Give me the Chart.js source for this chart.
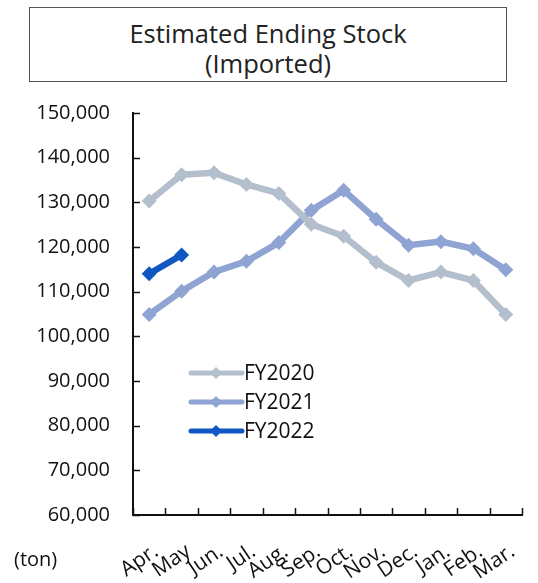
<!DOCTYPE html>
<html>
<head>
<meta charset="utf-8">
<script src="https://cdn.jsdelivr.net/npm/chart.js@4"></script>
<style>
  html, body { margin: 0; padding: 0; background: #fff; }
  #wrap { position: relative; width: 538px; height: 583px; overflow: hidden; }
  #title {
    position: absolute; left: 29px; top: 7px; width: 478px; height: 75px;
    border: 1.5px solid #555; box-sizing: border-box;
    font-family: "Open Sans", sans-serif; font-size: 25.5px; line-height: 30px;
    color: #222; text-align: center; padding-top: 10px;
  }
  #unit { position: absolute; left: 14px; top: 545px; font-family: "Open Sans", sans-serif; font-size: 20px; line-height: 28px; color: #111; }
  canvas { position: absolute; left: 0; top: 0; }
</style>
</head>
<body>
<div id="wrap">
  <div id="title">Estimated Ending Stock<br>(Imported)</div>
  <canvas id="c" width="538" height="583"></canvas>
  <div id="unit">(ton)</div>
</div>
<script>
// 월 (회계연도 4월 시작)
const months = ['Apr.', 'May', 'Jun.', 'Jul.', 'Aug.', 'Sep.', 'Oct.', 'Nov.', 'Dec.', 'Jan.', 'Feb.', 'Mar.'];

// 연도별 기말재고 (톤)
const fy2020 = [130300, 136200, 136600, 134000, 132000, 125100, 122400, 116600, 112500, 114400, 112500, 104900];
const fy2021 = [104900, 110100, 114400, 116800, 121000, 128200, 132700, 126200, 120400, 121200, 119600, 114900];
const fy2022 = [114000, 118200];

const seriesNames = ['FY2020', 'FY2021', 'FY2022'];
const seriesColors = ['#b4bfcd', '#8fa4d3', '#1157c4'];

const yTicks = [60000, 70000, 80000, 90000, 100000, 110000, 120000, 130000, 140000, 150000];

const font = "'Open Sans', sans-serif";

function mkSet(i, data) {
  return {
    label: seriesNames[i],
    data: data,
    borderColor: seriesColors[i],
    backgroundColor: seriesColors[i],
    borderWidth: 6.5,
    pointStyle: 'rectRot',
    pointRadius: 7.5,
    pointBorderWidth: 0,
    tension: 0
  };
}

// 눈금을 축 안쪽으로 그림
const innerTicks = {
  id: 'innerTicks',
  afterDraw(chart) {
    const c = chart.ctx, a = chart.chartArea;
    const xs = chart.scales.x, ys = chart.scales.y;
    c.save();
    c.strokeStyle = '#111';
    c.lineWidth = 1.5;
    c.beginPath();
    yTicks.forEach(v => {
      const y = Math.round(ys.getPixelForValue(v)) + 0.5;
      c.moveTo(a.left, y); c.lineTo(a.left + 7, y);
    });
    for (let i = 0; i <= months.length; i++) {
      const x = Math.round(xs.getPixelForValue(i - 0.5)) + 0.5;
      c.moveTo(x, a.bottom); c.lineTo(x, a.bottom - 7);
    }
    c.stroke();
    c.restore();
  }
};

// 차트 안쪽에 범례 그리기
const innerLegend = {
  id: 'innerLegend',
  afterDraw(chart) {
    const c = chart.ctx;
    const x0 = 191, x1 = 242, ys = [373, 402, 431];
    c.save();
    chart.data.datasets.forEach((ds, i) => {
      const y = ys[i];
      c.strokeStyle = ds.borderColor;
      c.lineWidth = 5;
      c.lineCap = 'round';
      c.beginPath(); c.moveTo(x0, y); c.lineTo(x1, y); c.stroke();
      c.fillStyle = ds.borderColor;
      c.beginPath();
      c.moveTo(216, y - 6); c.lineTo(222, y); c.lineTo(216, y + 6); c.lineTo(210, y);
      c.closePath(); c.fill();
      c.fillStyle = '#111';
      c.font = '21px ' + font;
      c.textBaseline = 'middle';
      c.textAlign = 'left';
      c.fillText(ds.label, 244, y + 1);
    });
    c.restore();
  }
};

new Chart(document.getElementById('c'), {
  type: 'line',
  data: {
    labels: months,
    datasets: [mkSet(0, fy2020), mkSet(1, fy2021), mkSet(2, fy2022)]
  },
  options: {
    responsive: false,
    animation: false,
    layout: { padding: { top: 113, right: 16, left: 0, bottom: 0 } },
    plugins: { legend: { display: false }, tooltip: { enabled: false } },
    scales: {
      x: {
        offset: true,
        grid: { display: false, drawTicks: false },
        border: { color: '#111', width: 2 },
        ticks: {
          color: '#111', font: { family: font, size: 21 },
          maxRotation: 34, minRotation: 34, padding: 24, labelOffset: 7, autoSkip: false
        },
        afterFit(s) {
          s.height = 68;
          s.paddingLeft = 0;
          s.paddingRight = 0;
        }
      },
      y: {
        min: 60000, max: 150000,
        afterBuildTicks(s) { s.ticks = yTicks.map(v => ({ value: v })); },
        grid: { display: false, drawTicks: false },
        border: { color: '#111', width: 2 },
        ticks: {
          color: '#111', font: { family: font, size: 20 }, padding: 23,
          callback: v => v.toLocaleString('en-US')
        },
        afterFit(s) {
          s.width = 133;
          s.paddingTop = 0;
          s.paddingBottom = 0;
        }
      }
    }
  },
  plugins: [innerTicks, innerLegend]
});
</script>
</body>
</html>
